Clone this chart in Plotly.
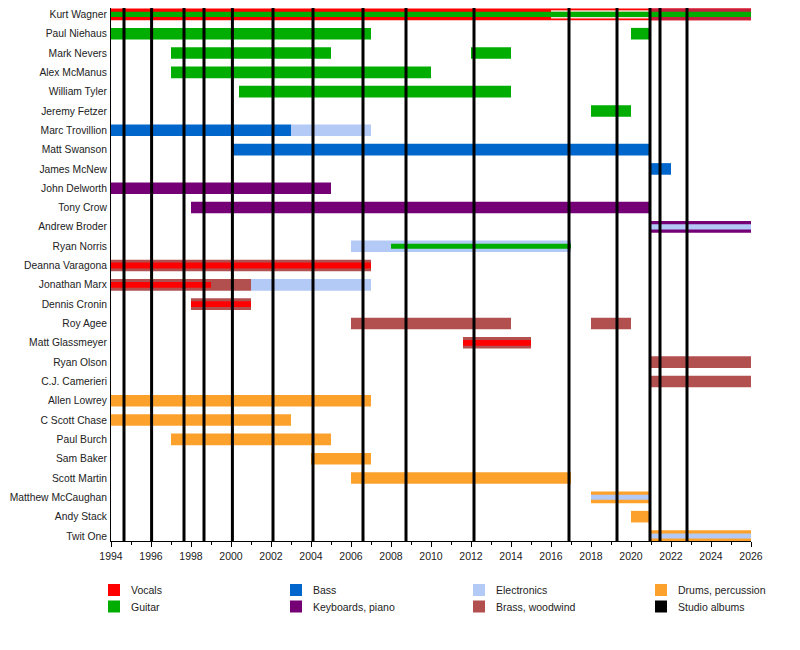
import plotly.graph_objects as go

# band members, top to bottom
members = [
    "Kurt Wagner", "Paul Niehaus", "Mark Nevers", "Alex McManus", "William Tyler",
    "Jeremy Fetzer", "Marc Trovillion", "Matt Swanson", "James McNew", "John Delworth",
    "Tony Crow", "Andrew Broder", "Ryan Norris", "Deanna Varagona", "Jonathan Marx",
    "Dennis Cronin", "Roy Agee", "Matt Glassmeyer", "Ryan Olson", "C.J. Camerieri",
    "Allen Lowrey", "C Scott Chase", "Paul Burch", "Sam Baker", "Scott Martin",
    "Matthew McCaughan", "Andy Stack", "Twit One",
]

# main roles (member, start, end)
vocals = [("Kurt Wagner", 1994, 2026)]
guitar = [("Paul Niehaus", 1994, 2007), ("Paul Niehaus", 2020, 2021),
          ("Mark Nevers", 1997, 2005), ("Mark Nevers", 2012, 2014),
          ("Alex McManus", 1997, 2010), ("William Tyler", 2000.4, 2014),
          ("Jeremy Fetzer", 2018, 2020)]
bass = [("Marc Trovillion", 1994, 2003), ("Matt Swanson", 2000, 2021),
        ("James McNew", 2021, 2022)]
keyboards = [("John Delworth", 1994, 2005), ("Tony Crow", 1998, 2021),
             ("Andrew Broder", 2021, 2026)]
electronics = [("Marc Trovillion", 2003, 2007), ("Ryan Norris", 2006, 2017),
               ("Jonathan Marx", 2001, 2007)]
brass = [("Deanna Varagona", 1994, 2007), ("Jonathan Marx", 1994, 2001),
         ("Dennis Cronin", 1998, 2001), ("Roy Agee", 2006, 2014), ("Roy Agee", 2018, 2020),
         ("Matt Glassmeyer", 2011.6, 2015), ("Ryan Olson", 2021, 2026),
         ("C.J. Camerieri", 2021, 2026)]
drums = [("Allen Lowrey", 1994, 2007), ("C Scott Chase", 1994, 2003),
         ("Paul Burch", 1997, 2005), ("Sam Baker", 2004, 2007), ("Scott Martin", 2006, 2017),
         ("Matthew McCaughan", 2018, 2021), ("Andy Stack", 2020, 2021),
         ("Twit One", 2021, 2026)]
kurt_late = [("Kurt Wagner", 2021, 2026)]

# secondary roles
vocals_2nd = [("Deanna Varagona", 1994, 2007), ("Jonathan Marx", 1994, 1999),
              ("Dennis Cronin", 1998, 2001), ("Matt Glassmeyer", 2011.6, 2015)]
kurt_mid = [("Kurt Wagner", 2016, 2021)]
guitar_3rd = [("Kurt Wagner", 1994, 2026), ("Ryan Norris", 2008, 2017)]
electronics_3rd = [("Andrew Broder", 2021, 2026), ("Matthew McCaughan", 2018, 2021),
                   ("Twit One", 2021, 2026)]

albums = [1994.65, 1996.03, 1997.65, 1998.65, 2000.07, 2002.1, 2004.1, 2006.6,
          2008.75, 2012.15, 2016.9, 2019.3, 2020.95, 2021.45, 2022.8]

colors = {
    "Vocals": "#ff0000", "Guitar": "#00ad00", "Bass": "#0066cc",
    "Keyboards, piano": "#750075", "Electronics": "#b4caf6",
    "Brass, woodwind": "#b25050", "Drums, percussion": "#fca22c",
    "Studio albums": "#000000",
}

row = {m: i for i, m in enumerate(members)}
y_top, y_bot = -0.33, 27.26

fig = go.Figure()

# studio album lines
lx, ly = [], []
for a in albums:
    lx += [a, a, None]
    ly += [y_top, y_bot, None]
fig.add_trace(go.Scatter(x=lx, y=ly, mode="lines", line=dict(color="black", width=3),
                         hoverinfo="skip"))


def add_bars(segs, color, w):
    fig.add_trace(go.Bar(
        orientation="h",
        y=[row[s[0]] for s in segs],
        base=[s[1] for s in segs],
        x=[s[2] - s[1] for s in segs],
        width=w,
        marker=dict(color=color, line=dict(width=0)),
        hovertext=[s[0] for s in segs],
    ))


wide, mid, narrow = 0.6, 0.43, 0.26
add_bars(vocals, colors["Vocals"], wide)
add_bars(kurt_late, "#c61f3d", wide)
add_bars(guitar, colors["Guitar"], wide)
add_bars(bass, colors["Bass"], wide)
add_bars(keyboards, colors["Keyboards, piano"], wide)
add_bars(electronics, colors["Electronics"], wide)
add_bars(brass, colors["Brass, woodwind"], wide)
add_bars(drums, colors["Drums, percussion"], wide)
add_bars(kurt_mid, "#f6ded2", mid)
add_bars(vocals_2nd, colors["Vocals"], 0.3)
add_bars(guitar_3rd, colors["Guitar"], narrow)
add_bars(electronics_3rd, colors["Electronics"], narrow)

# figure sits 8px into the page; plot area is 640 x 533 px
ml, mt = 103, 0
plot_w, plot_h = 640, 533

# legend drawn by hand in 4 columns x 2 rows (figure pixel coords)
legend_order = ["Vocals", "Guitar", "Bass", "Keyboards, piano",
                "Electronics", "Brass, woodwind", "Drums, percussion", "Studio albums"]
col_px = [100, 282, 465, 647]
row_py = [582, 598.5]
for k, name in enumerate(legend_order):
    cx = col_px[k // 2]
    cy = row_py[k % 2]
    fig.add_shape(type="rect", xref="paper", yref="paper",
                  x0=(cx - ml) / plot_w, x1=(cx + 12 - ml) / plot_w,
                  y0=(plot_h - cy - 6) / plot_h, y1=(plot_h - cy + 6) / plot_h,
                  fillcolor=colors[name], line=dict(width=0))
    fig.add_annotation(xref="paper", yref="paper", x=(cx + 21 - ml) / plot_w,
                       y=(plot_h - cy) / plot_h, text=name, showarrow=False,
                       xanchor="left", yanchor="middle",
                       font=dict(size=10.5, color="#222"))

fig.update_layout(
    width=784, height=634,
    margin=dict(l=ml, r=784 - ml - plot_w, t=mt, b=634 - mt - plot_h),
    barmode="overlay",
    showlegend=False,
    plot_bgcolor="white", paper_bgcolor="white",
    font=dict(family="Liberation Sans, Arial, sans-serif", size=10.5, color="#222"),
    xaxis=dict(range=[1994, 2026], dtick=2, tick0=1994, ticks="outside", ticklen=5,
               tickcolor="black", showline=True, linecolor="black", linewidth=1,
               showgrid=False, zeroline=False, automargin=False,
               minor=dict(dtick=1, ticks="outside", ticklen=3, tickcolor="black")),
    yaxis=dict(range=[y_bot, y_top], tickvals=list(range(len(members))), ticktext=members,
               showline=True, linecolor="black", linewidth=1, showgrid=False,
               zeroline=False, ticks="", ticklabelstandoff=1, automargin=False,
               ticklabeloverflow="allow", tickfont=dict(size=10.3)),
)

fig.write_html("out.html")
